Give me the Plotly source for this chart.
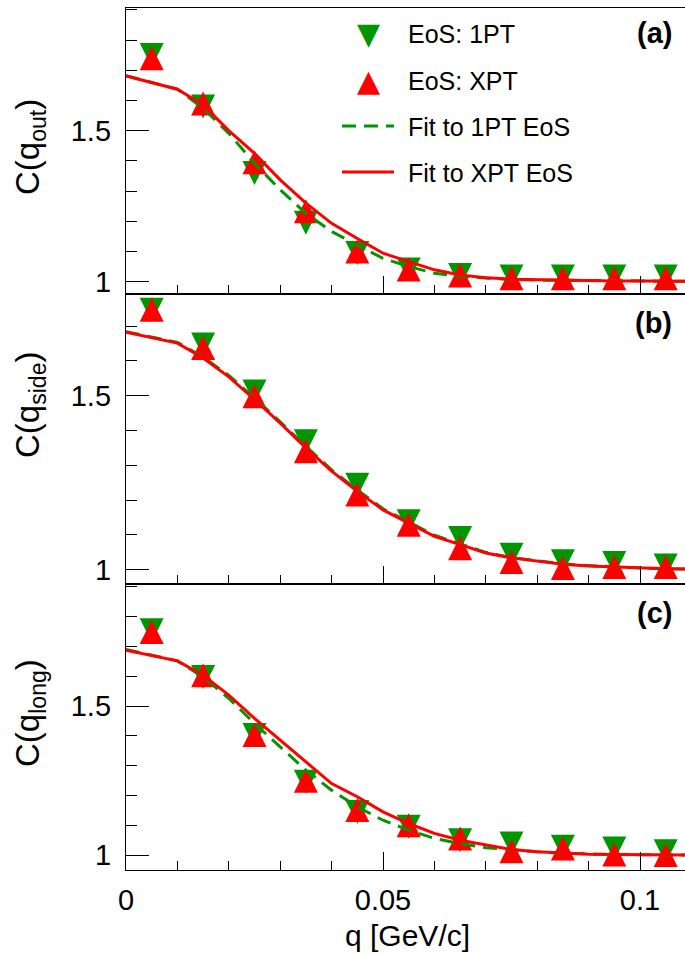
import plotly.graph_objects as go
from plotly.subplots import make_subplots

# ---------------- data ----------------
q_pts = [0.005, 0.015, 0.025, 0.035, 0.045, 0.055, 0.065, 0.075, 0.085, 0.095, 0.105]

out_1pt = [1.750, 1.580, 1.360, 1.195, 1.095, 1.040, 1.022, 1.017, 1.017, 1.017, 1.017]
out_xpt = [1.740, 1.590, 1.395, 1.233, 1.100, 1.040, 1.020, 1.011, 1.011, 1.011, 1.011]
side_1pt = [1.747, 1.647, 1.512, 1.369, 1.244, 1.139, 1.091, 1.043, 1.024, 1.019, 1.012]
side_xpt = [1.747, 1.637, 1.498, 1.340, 1.216, 1.129, 1.062, 1.022, 1.005, 1.008, 1.008]
long_1pt = [1.755, 1.598, 1.403, 1.246, 1.145, 1.095, 1.050, 1.039, 1.028, 1.022, 1.013]
long_xpt = [1.749, 1.604, 1.403, 1.250, 1.151, 1.100, 1.056, 1.013, 1.022, 1.002, 1.000]

q_fit = [0.0, 0.01, 0.015, 0.02, 0.025, 0.03, 0.035, 0.04, 0.045, 0.05, 0.055,
         0.06, 0.065, 0.07, 0.075, 0.08, 0.085, 0.09, 0.095, 0.1, 0.105, 0.11]

fit_out_1pt = [1.682, 1.637, 1.574, 1.491, 1.392, 1.304, 1.226, 1.166, 1.121, 1.077, 1.050,
               1.028, 1.017, 1.011, 1.007, 1.005, 1.004, 1.003, 1.002, 1.002, 1.001, 1.001]
fit_out_xpt = [1.681, 1.637, 1.585, 1.500, 1.425, 1.337, 1.260, 1.193, 1.143, 1.094, 1.066,
               1.039, 1.022, 1.013, 1.008, 1.006, 1.004, 1.003, 1.002, 1.002, 1.001, 1.001]
fit_side_1pt = [1.684, 1.653, 1.611, 1.558, 1.493, 1.425, 1.354, 1.287, 1.229, 1.175, 1.137,
                1.099, 1.074, 1.050, 1.035, 1.025, 1.017, 1.012, 1.008, 1.005, 1.003, 1.002]
fit_side_xpt = [1.682, 1.651, 1.608, 1.554, 1.489, 1.421, 1.350, 1.283, 1.225, 1.172, 1.134,
                1.096, 1.072, 1.048, 1.034, 1.024, 1.016, 1.011, 1.008, 1.005, 1.003, 1.002]
fit_long_1pt = [1.690, 1.652, 1.598, 1.526, 1.442, 1.364, 1.285, 1.218, 1.162, 1.117, 1.084,
                1.056, 1.039, 1.025, 1.017, 1.011, 1.006, 1.004, 1.002, 1.001, 1.001, 1.000]
fit_long_xpt = [1.688, 1.652, 1.604, 1.537, 1.459, 1.386, 1.313, 1.240, 1.196, 1.145, 1.106,
                1.073, 1.050, 1.034, 1.019, 1.011, 1.006, 1.003, 1.002, 1.001, 1.000, 1.000]

panel_titles = ["C(q<sub>out</sub>)", "C(q<sub>side</sub>)", "C(q<sub>long</sub>)"]
panel_tags = ["(a)", "(b)", "(c)"]
legend_names = ["EoS: 1PT", "EoS: XPT", "Fit to 1PT EoS", "Fit to XPT EoS"]
x_title = "q [GeV/c]"

# ---------------- style ----------------
GREEN = "#009600"
RED = "#ff0000"
FONT = "Liberation Sans, Arial, Helvetica, sans-serif"

fig = make_subplots(rows=3, cols=1, shared_xaxes=True, vertical_spacing=0)

panels = [
    (out_1pt, out_xpt, fit_out_1pt, fit_out_xpt),
    (side_1pt, side_xpt, fit_side_1pt, fit_side_xpt),
    (long_1pt, long_xpt, fit_long_1pt, fit_long_xpt),
]

for i, (d1, dx, f1, fx) in enumerate(panels):
    row = i + 1
    fig.add_trace(go.Scatter(
        x=q_pts, y=d1, mode="markers", name=legend_names[0], showlegend=False,
        marker=dict(symbol="arrow-down", size=24, standoff=12, color=GREEN,
                    line=dict(width=0)),
    ), row=row, col=1)
    fig.add_trace(go.Scatter(
        x=q_pts, y=dx, mode="markers", name=legend_names[1], showlegend=False,
        marker=dict(symbol="arrow-down", angle=180, size=24, standoff=12, color=RED,
                    line=dict(width=0)),
    ), row=row, col=1)
    fig.add_trace(go.Scatter(
        x=q_fit, y=f1, mode="lines", name=legend_names[2], showlegend=False,
        line=dict(color=GREEN, width=3, dash="14px,8px"),
    ), row=row, col=1)
    fig.add_trace(go.Scatter(
        x=q_fit, y=fx, mode="lines", name=legend_names[3], showlegend=False,
        line=dict(color=RED, width=3),
    ), row=row, col=1)

# geometry (pixels)
W, H = 685, 954
ML, MR, MT, MB = 126, 0, 8, 84
PH = H - MT - MB
PW = W - ML - MR

def py(pix):
    return (H - MB - pix) / PH

def px(pix):
    return (pix - ML) / PW

bounds = [(8, 294), (294, 584), (584, 870)]
yranges = [[0.959, 1.906], [0.959, 1.792], [0.950, 1.910]]

axis_common = dict(showline=True, linecolor="black", linewidth=1.3,
                   showgrid=False, zeroline=False, ticks="inside",
                   tickcolor="black", tickwidth=1.2)

for i in range(3):
    top, bot = bounds[i]
    yname = "yaxis" if i == 0 else f"yaxis{i+1}"
    xname = "xaxis" if i == 0 else f"xaxis{i+1}"
    fig.layout[yname].update(
        domain=[py(bot), py(top)], range=yranges[i],
        tickmode="linear", tick0=0, dtick=0.5, ticklen=23,
        minor=dict(dtick=0.1, tick0=0, ticklen=11, ticks="inside",
                   tickcolor="black", tickwidth=1.2, showgrid=False),
        tickfont=dict(family=FONT, size=29, color="black"),
        ticklabelstandoff=8, mirror=False, **axis_common)
    fig.layout[xname].update(
        range=[0, PW / 5140.0], tickmode="linear", tick0=0, dtick=0.05, ticklen=18,
        minor=dict(dtick=0.01, tick0=0, ticklen=9, ticks="inside",
                   tickcolor="black", tickwidth=1.2, showgrid=False),
        tickfont=dict(family=FONT, size=29, color="black"),
        ticklabelstandoff=4,
        showticklabels=(i == 2), mirror=True, **axis_common)

annotations = []
shapes = []
title_centers = [147, 405, 713]
tag_centers = [33, 323, 613]
for i in range(3):
    annotations.append(dict(
        text=panel_titles[i], xref="paper", yref="paper",
        x=px(30), y=py(title_centers[i]), xanchor="center", yanchor="middle",
        textangle=-90, showarrow=False,
        font=dict(family=FONT, size=33, color="black")))
    annotations.append(dict(
        text="<b>" + panel_tags[i] + "</b>", xref="paper", yref="paper",
        x=px(674), y=py(tag_centers[i]), xanchor="right", yanchor="middle",
        showarrow=False, font=dict(family=FONT, size=29, color="black")))
annotations.append(dict(
    text=x_title, xref="paper", yref="paper", x=px(407), y=py(935),
    xanchor="center", yanchor="middle", showarrow=False,
    font=dict(family=FONT, size=30, color="black")))

# ---------------- legend (drawn by hand) ----------------
row_y = [33, 80, 126, 172]
sample_x0, sample_x1, glyph_x, text_x = 342, 394, 368, 406
legend_glyphs = ["\u25bc", "\u25b2"]
legend_glyph_colors = [GREEN, RED]
for k in range(2):
    annotations.append(dict(
        text=legend_glyphs[k], xref="paper", yref="paper",
        x=px(glyph_x), y=py(row_y[k]), xanchor="center", yanchor="middle",
        showarrow=False,
        font=dict(family="DejaVu Sans", size=30, color=legend_glyph_colors[k])))
for k, (col, dash) in enumerate([(GREEN, "14px,8px"), (RED, "solid")]):
    shapes.append(dict(
        type="line", xref="paper", yref="paper",
        x0=px(sample_x0), x1=px(sample_x1), y0=py(row_y[k + 2]), y1=py(row_y[k + 2]),
        line=dict(color=col, width=3, dash=dash)))
for k in range(4):
    annotations.append(dict(
        text=legend_names[k], xref="paper", yref="paper",
        x=px(text_x), y=py(row_y[k] + 1), xanchor="left", yanchor="middle",
        showarrow=False, font=dict(family=FONT, size=25, color="black")))

fig.update_layout(
    width=W, height=H,
    margin=dict(l=ML, r=MR, t=MT, b=MB, pad=0),
    paper_bgcolor="white", plot_bgcolor="white",
    font=dict(family=FONT, color="black"),
    annotations=annotations, shapes=shapes,
    showlegend=False,
)

fig.write_html("out.html")
